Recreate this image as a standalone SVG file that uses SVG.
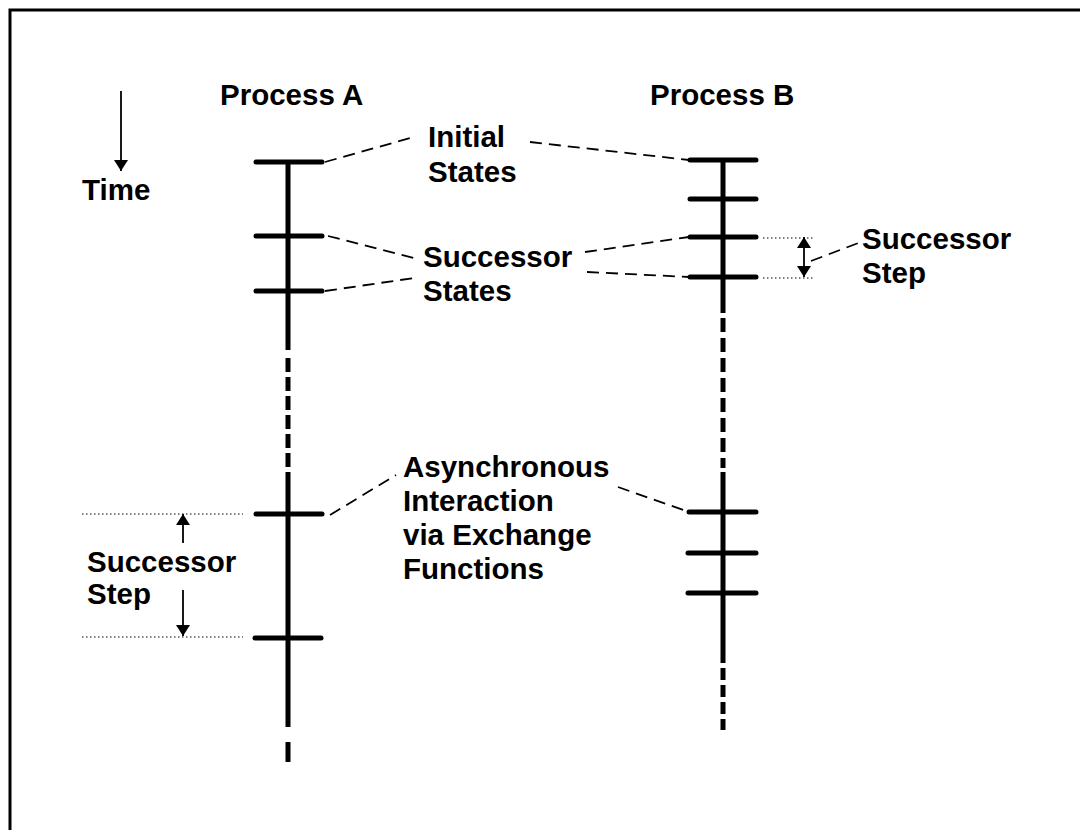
<svg xmlns="http://www.w3.org/2000/svg" width="1080" height="830" viewBox="0 0 1080 830">
<style>
text{font-family:"Liberation Sans",Arial,Helvetica,sans-serif;font-weight:bold;font-size:29.5px;fill:#000}
.axis{stroke:#000;stroke-width:5;fill:none}
.tick{stroke:#000;stroke-width:5;stroke-linecap:round;fill:none}
.lead{stroke:#000;stroke-width:1.8;stroke-dasharray:12,7;fill:none}
.dot{stroke:#000;stroke-width:1;stroke-dasharray:1.5,2.5;fill:none}
.arr{stroke:#000;stroke-width:1.8;fill:none}
</style>
<defs>
<marker id="ah" markerUnits="userSpaceOnUse" markerWidth="12" markerHeight="16" refX="11" refY="7" orient="auto">
<path d="M0,0 L11,7 L0,14 z" fill="#000"/>
</marker>
</defs>
<rect width="1080" height="830" fill="#fff"/>
<path d="M10,830 V10 H1080" stroke="#000" stroke-width="3" fill="none"/>

<g id="time">
<line class="arr" x1="121" y1="91" x2="121" y2="171" marker-end="url(#ah)"/>
<text x="82" y="200">Time</text>
</g>

<g id="processA">
<text x="220" y="105">Process A</text>
<line class="axis" x1="288" y1="160" x2="288" y2="350"/>
<line class="axis" x1="288" y1="358" x2="288" y2="468" stroke-dasharray="14,5"/>
<line class="axis" x1="288" y1="472" x2="288" y2="727"/>
<line class="axis" x1="288" y1="742" x2="288" y2="762"/>
<line class="tick" x1="256" y1="162" x2="322" y2="162"/>
<line class="tick" x1="256" y1="236" x2="322" y2="236"/>
<line class="tick" x1="256" y1="291" x2="322" y2="291"/>
<line class="tick" x1="256" y1="514" x2="322" y2="514"/>
<line class="tick" x1="255" y1="638" x2="321" y2="638"/>
</g>

<g id="processB">
<text x="650" y="105">Process B</text>
<line class="axis" x1="723" y1="158" x2="723" y2="313"/>
<line class="axis" x1="723" y1="318" x2="723" y2="468" stroke-dasharray="14,6"/>
<line class="axis" x1="723" y1="472" x2="723" y2="663"/>
<line class="axis" x1="723" y1="668" x2="723" y2="730" stroke-dasharray="12,5"/>
<line class="tick" x1="690" y1="160" x2="756" y2="160"/>
<line class="tick" x1="690" y1="199" x2="756" y2="199"/>
<line class="tick" x1="690" y1="237" x2="756" y2="237"/>
<line class="tick" x1="690" y1="277" x2="756" y2="277"/>
<line class="tick" x1="689" y1="512" x2="756" y2="512"/>
<line class="tick" x1="688" y1="553" x2="756" y2="553"/>
<line class="tick" x1="688" y1="593" x2="756" y2="593"/>
</g>

<g id="label-initial">
<text x="428" y="147">Initial</text>
<text x="428" y="182">States</text>
</g>
<g id="label-successor-states">
<text x="423" y="267">Successor</text>
<text x="423" y="301">States</text>
</g>
<g id="label-async">
<text x="403" y="477">Asynchronous</text>
<text x="403" y="511">Interaction</text>
<text x="403" y="545">via Exchange</text>
<text x="403" y="579">Functions</text>
</g>
<g id="label-step-right">
<text x="862" y="249">Successor</text>
<text x="862" y="283">Step</text>
</g>
<g id="label-step-left">
<text x="87" y="572">Successor</text>
<text x="87" y="604">Step</text>
</g>

<g id="connectors">
<line class="lead" x1="325" y1="162" x2="414" y2="137"/>
<line class="lead" x1="530" y1="142" x2="689" y2="160"/>
<line class="lead" x1="328" y1="236" x2="414" y2="258"/>
<line class="lead" x1="325" y1="291" x2="414" y2="278"/>
<line class="lead" x1="585" y1="252" x2="689" y2="237"/>
<line class="lead" x1="587" y1="272" x2="689" y2="277"/>
<line class="lead" x1="330" y1="515" x2="396" y2="475"/>
<line class="lead" x1="618" y1="487" x2="689" y2="512"/>
<line class="lead" x1="811" y1="261" x2="861" y2="242"/>
<line class="dot" x1="763" y1="238" x2="815" y2="238"/>
<line class="dot" x1="763" y1="278" x2="815" y2="278"/>
<line class="arr" x1="804" y1="257" x2="804" y2="237" marker-end="url(#ah)"/>
<line class="arr" x1="804" y1="257" x2="804" y2="277" marker-end="url(#ah)"/>
<line class="dot" x1="82" y1="514" x2="243" y2="514"/>
<line class="dot" x1="82" y1="637" x2="243" y2="637"/>
<line class="arr" x1="183" y1="543" x2="183" y2="514" marker-end="url(#ah)"/>
<line class="arr" x1="183" y1="590" x2="183" y2="636" marker-end="url(#ah)"/>
</g>
</svg>
